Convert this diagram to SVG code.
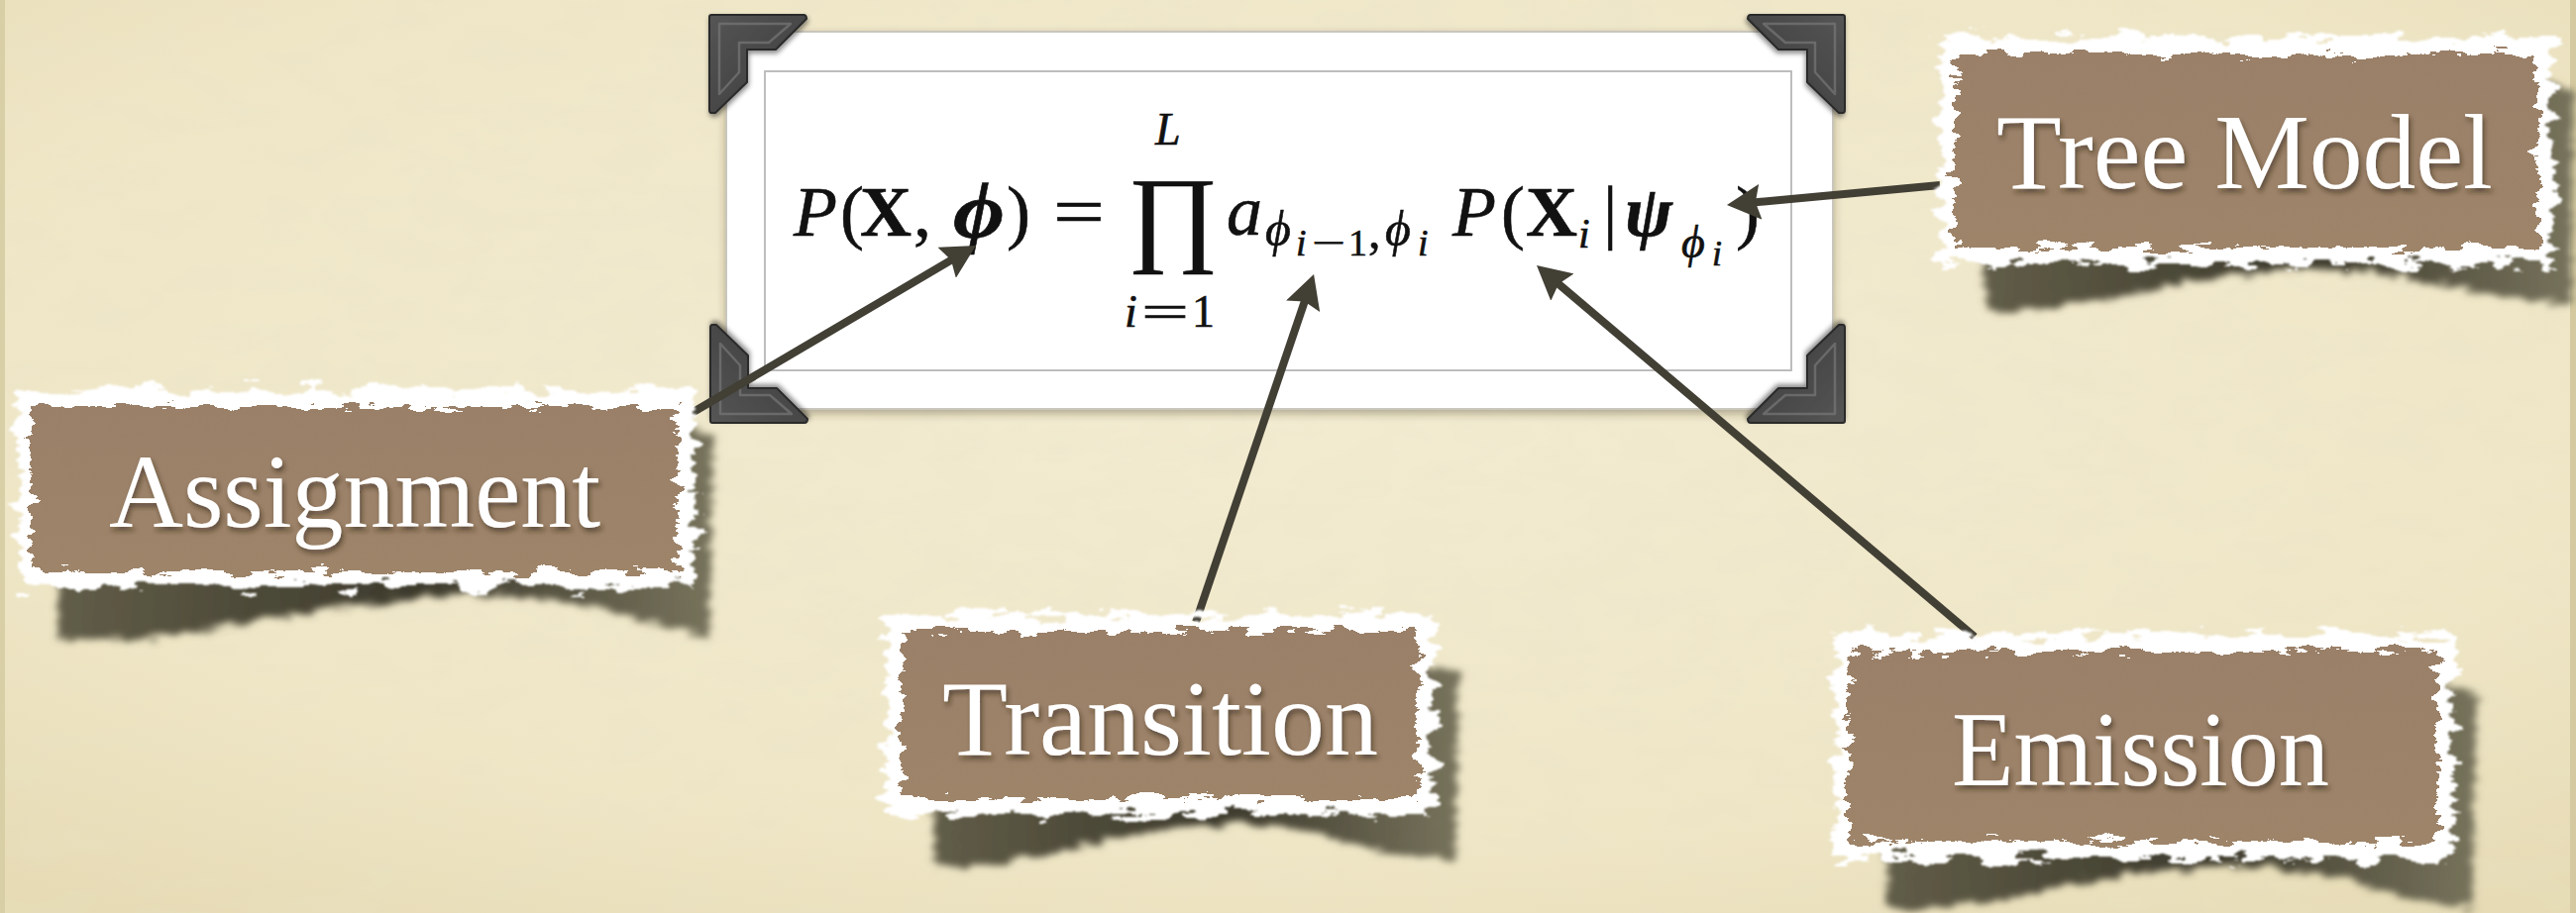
<svg xmlns="http://www.w3.org/2000/svg" width="2600" height="922" viewBox="0 0 2600 922">
<defs>
<style>
.lbl{font-family:"Liberation Serif","DejaVu Serif",serif;fill:#ffffff;filter:url(#ts)}
.eq{font-family:"Liberation Serif","DejaVu Serif",serif;fill:#111111;stroke:#111111;stroke-width:0.6}
.it{font-style:italic}
.bd{font-weight:bold}
.bi{font-weight:bold;font-style:italic}
.conn{stroke:#423f35;stroke-width:8;fill:none;marker-end:url(#ah)}
.paperW{fill:#ffffff;filter:url(#tornW)}
.paperB{fill:url(#brown);filter:url(#tornB)}
.shadow{fill:url(#shg);filter:url(#shf)}
.corner{fill:url(#cg);stroke:#2b2b2b;stroke-width:2;stroke-linejoin:round;filter:url(#cs)}
.cornerIn{fill:none;stroke:#777777;stroke-width:2.5;stroke-linejoin:round;opacity:0.7}
</style>
<radialGradient id="bg" cx="0.5" cy="0.4" r="0.75">
<stop offset="0" stop-color="#f3ecd2"/>
<stop offset="0.7" stop-color="#efe6c6"/>
<stop offset="1" stop-color="#e6dbb4"/>
</radialGradient>
<linearGradient id="brown" x1="0" y1="0" x2="0" y2="1">
<stop offset="0" stop-color="#9a8068"/>
<stop offset="1" stop-color="#9e8469"/>
</linearGradient>
<linearGradient id="shg" x1="0" y1="0" x2="1" y2="0">
<stop offset="0" stop-color="#615d48"/>
<stop offset="0.55" stop-color="#3d3a2c"/>
<stop offset="1" stop-color="#77735c"/>
</linearGradient>
<linearGradient id="cg" x1="0" y1="0" x2="1" y2="1">
<stop offset="0" stop-color="#555555"/>
<stop offset="1" stop-color="#3a3a3a"/>
</linearGradient>
<filter id="tornW" x="-8%" y="-20%" width="116%" height="140%">
<feTurbulence type="fractalNoise" baseFrequency="0.03 0.09" numOctaves="5" seed="7" result="n"/>
<feDisplacementMap in="SourceGraphic" in2="n" scale="34" xChannelSelector="R" yChannelSelector="G" result="d"/>
<feGaussianBlur in="d" stdDeviation="1.3"/>
</filter>
<filter id="tornB" x="-8%" y="-20%" width="116%" height="140%">
<feTurbulence type="fractalNoise" baseFrequency="0.035 0.1" numOctaves="5" seed="13" result="n"/>
<feDisplacementMap in="SourceGraphic" in2="n" scale="26" xChannelSelector="R" yChannelSelector="G"/>
</filter>
<filter id="shf" x="-10%" y="-20%" width="120%" height="140%">
<feTurbulence type="fractalNoise" baseFrequency="0.05 0.2" numOctaves="3" seed="4" result="n"/>
<feDisplacementMap in="SourceGraphic" in2="n" scale="18" xChannelSelector="R" yChannelSelector="G" result="d"/>
<feGaussianBlur in="d" stdDeviation="3.5"/>
</filter>
<filter id="ts" x="-5%" y="-20%" width="110%" height="140%">
<feDropShadow dx="2" dy="4" stdDeviation="2.5" flood-color="#2a2015" flood-opacity="0.55"/>
</filter>
<filter id="fs" x="-5%" y="-10%" width="110%" height="125%">
<feDropShadow dx="0" dy="4" stdDeviation="4" flood-color="#3a3420" flood-opacity="0.35"/>
</filter>
<filter id="cs" x="-20%" y="-20%" width="140%" height="140%">
<feDropShadow dx="1" dy="3" stdDeviation="2.5" flood-color="#000000" flood-opacity="0.45"/>
</filter>
<filter id="grain" x="0" y="0" width="100%" height="100%">
<feTurbulence type="fractalNoise" baseFrequency="0.015 0.03" numOctaves="3" seed="2"/>
<feColorMatrix type="matrix" values="0 0 0 0 0.80  0 0 0 0 0.76  0 0 0 0 0.58  0.5 0 0 0 -0.18"/>
</filter>
<marker id="ah" markerUnits="userSpaceOnUse" viewBox="0 0 34 36" markerWidth="34" markerHeight="36" refX="18" refY="18" orient="auto">
<path d="M0,0 L34,18 L0,36 L5,18 Z" fill="#423f35"/>
</marker>
<path id="cornerShape" d="M0,2 Q0,0 2,0 H95 Q98,0 98,4 L67,35 H38 V68 L6,99 H2 Q0,99 0,96 Z"/>
<path id="cornerInner" d="M10,9 H82 L60,28 H30 V58 L10,80 Z"/>
</defs>

<!-- background -->
<rect x="0" y="0" width="2600" height="922" fill="url(#bg)"/>
<rect x="0" y="0" width="2600" height="922" filter="url(#grain)"/>
<rect x="0" y="0" width="5" height="922" fill="#d9cfa6"/>
<rect x="2594" y="0" width="6" height="922" fill="#d4c9a0"/>

<!-- photo frame with equation -->
<g id="formula">
<rect x="733" y="32" width="1117" height="381" fill="#ffffff" stroke="#c9c6bd" stroke-width="2" filter="url(#fs)"/>
<rect x="772" y="72" width="1036" height="302" fill="#ffffff" stroke="#bdbdbd" stroke-width="2"/>
<g id="corners">
<g transform="translate(716,15)"><use href="#cornerShape" class="corner"/><use href="#cornerInner" class="cornerIn"/></g>
<g transform="translate(1862,15) scale(-1,1)"><use href="#cornerShape" class="corner"/><use href="#cornerInner" class="cornerIn"/></g>
<g transform="translate(717,427) scale(1,-1)"><use href="#cornerShape" class="corner"/><use href="#cornerInner" class="cornerIn"/></g>
<g transform="translate(1862,427) scale(-1,-1)"><use href="#cornerShape" class="corner"/><use href="#cornerInner" class="cornerIn"/></g>
</g>
<g id="equation" class="eq">
<text x="801" y="238" font-size="72" class="it">P</text>
<text x="848" y="238" font-size="72">(</text>
<text x="868" y="238" font-size="72" class="bd">X</text>
<text x="922" y="238" font-size="72">,</text>
<text x="962" y="240" font-size="80" class="bi" textLength="52" lengthAdjust="spacingAndGlyphs">ϕ</text>
<text x="1016" y="238" font-size="72">)</text>
<text x="1063" y="238" font-size="72" textLength="52" lengthAdjust="spacingAndGlyphs">=</text>
<text x="1138" y="254" font-size="108" textLength="92" lengthAdjust="spacingAndGlyphs">∏</text>
<text x="1166" y="146" font-size="46" class="it">L</text>
<text x="1135" y="330" font-size="46" class="it">i</text>
<text x="1152" y="330" font-size="46" textLength="48" lengthAdjust="spacingAndGlyphs">=</text>
<text x="1203" y="330" font-size="46">1</text>
<text x="1238" y="237" font-size="72" class="it">a</text>
<text x="1277" y="248" font-size="50" class="it">ϕ</text>
<text x="1308" y="258" font-size="38" class="it">i</text>
<text x="1324" y="258" font-size="38" textLength="34" lengthAdjust="spacingAndGlyphs">−</text>
<text x="1361" y="258" font-size="38">1</text>
<text x="1381" y="250" font-size="50">,</text>
<text x="1398" y="248" font-size="50" class="it">ϕ</text>
<text x="1431" y="258" font-size="38" class="it">i</text>
<text x="1466" y="238" font-size="72" class="it">P</text>
<text x="1515" y="238" font-size="72">(</text>
<text x="1540" y="238" font-size="72" class="bd">X</text>
<text x="1593" y="250" font-size="42" class="it">i</text>
<text x="1618" y="238" font-size="72">|</text>
<text x="1640" y="238" font-size="72" class="bi">ψ</text>
<text x="1697" y="260" font-size="46" class="it">ϕ</text>
<text x="1728" y="268" font-size="36" class="it">i</text>
<text x="1752" y="238" font-size="72">)</text>
</g>
</g>

<!-- connectors -->
<g id="connectors">
<line class="conn" x1="683" y1="426" x2="971.2" y2="256.1"/>
<line class="conn" x1="1207" y1="628" x2="1320.9" y2="292.2"/>
<line class="conn" x1="1993" y1="643" x2="1563.2" y2="278.4"/>
<line class="conn" x1="1958" y1="187" x2="1758.9" y2="205.5"/>
</g>

<!-- labels -->
<g id="assignment">
<path class="shadow" d="M60,560 L58,645 Q150,652 250,628 Q380,606 480,600 Q560,600 640,624 L716,645 L720,440 L690,430 Z"/>
<rect class="paperW" x="17" y="393" width="684" height="200"/>
<rect class="paperB" x="32" y="411" width="652" height="166"/>
<text class="lbl" x="110" y="532" font-size="106" textLength="496" lengthAdjust="spacingAndGlyphs">Assignment</text>
</g>
<g id="transition">
<path class="shadow" d="M940,790 L945,875 Q1020,876 1110,850 Q1200,830 1260,832 Q1330,838 1380,858 L1468,870 L1472,680 L1430,670 Z"/>
<rect class="paperW" x="895" y="620" width="551" height="203"/>
<rect class="paperB" x="910" y="638" width="520" height="168"/>
<text class="lbl" x="951" y="762" font-size="108" textLength="440" lengthAdjust="spacingAndGlyphs">Transition</text>
</g>
<g id="emission">
<path class="shadow" d="M1900,830 L1905,918 Q2000,918 2100,892 Q2200,872 2280,875 Q2380,885 2420,905 L2495,918 L2500,700 L2460,690 Z"/>
<rect class="paperW" x="1851" y="640" width="625" height="227"/>
<rect class="paperB" x="1866" y="658" width="594" height="192"/>
<text class="lbl" x="1970" y="793" font-size="107" textLength="381" lengthAdjust="spacingAndGlyphs">Emission</text>
</g>
<g id="tree-model">
<path class="shadow" d="M2000,230 L2005,316 Q2090,314 2180,290 Q2280,270 2350,272 Q2450,280 2500,296 L2595,308 L2598,90 L2560,80 Z"/>
<rect class="paperW" x="1958" y="37" width="619" height="230"/>
<rect class="paperB" x="1973" y="55" width="588" height="195"/>
<text class="lbl" x="2015" y="190" font-size="108" textLength="501" lengthAdjust="spacingAndGlyphs">Tree Model</text>
</g>
</svg>
